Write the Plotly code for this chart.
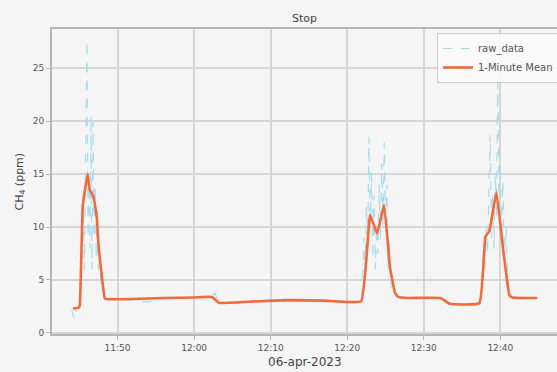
import plotly.graph_objects as go

DAY = "2023-04-06 "

raw_times = [
    "11:44:00", "11:44:20", "11:44:40", "11:45:00", "11:45:10", "11:45:20", "11:45:30", "11:45:40",
    "11:45:50", "11:46:00", "11:46:08", "11:46:16", "11:46:24", "11:46:32", "11:46:40", "11:46:48",
    "11:46:56", "11:47:04", "11:47:12", "11:47:20", "11:47:30", "11:47:40", "11:47:50", "11:48:00",
    "11:48:15", "11:48:30", "11:49:00", "11:52:00", "11:54:00", "11:56:00", "11:58:00", "12:00:00",
    "12:02:20", "12:02:40", "12:03:15", "12:06:00", "12:10:00", "12:12:00", "12:16:00", "12:20:00",
    "12:21:40", "12:21:50", "12:22:00", "12:22:10", "12:22:20", "12:22:30", "12:22:40", "12:22:50",
    "12:23:00", "12:23:10", "12:23:20", "12:23:30", "12:23:40", "12:23:50", "12:24:00", "12:24:10",
    "12:24:20", "12:24:30", "12:24:40", "12:24:50", "12:25:00", "12:25:10", "12:25:20", "12:25:30",
    "12:25:45", "12:26:00", "12:26:30", "12:28:00", "12:30:00", "12:32:00", "12:33:20", "12:35:00",
    "12:37:00", "12:37:20", "12:37:40", "12:37:50", "12:38:00", "12:38:10", "12:38:20", "12:38:40",
    "12:38:50", "12:39:00", "12:39:10", "12:39:20", "12:39:30", "12:39:40", "12:39:50", "12:40:00",
    "12:40:10", "12:40:20", "12:40:30", "12:40:45", "12:41:00", "12:41:15", "12:41:30", "12:43:00",
    "12:44:50",
]
raw_values = [
    2.2, 1.3, 2.4, 2.5, 4.0, 8.0, 12.5, 6.0,
    15.5, 27.6, 9.0, 14.0, 8.0, 20.5, 6.0, 20.0,
    9.0, 14.0, 7.0, 12.0, 6.0, 8.0, 4.5, 5.0,
    3.5, 3.2, 3.2, 3.1, 2.9, 3.3, 3.3, 3.4,
    3.4, 3.8, 2.8, 2.9, 3.0, 3.2, 3.1, 2.9,
    3.0, 3.0, 5.0, 9.0, 6.0, 12.0, 8.0, 18.5,
    10.0, 15.0, 7.0, 13.0, 6.0, 10.0, 7.5, 14.0,
    9.0, 16.0, 10.0, 18.0, 11.0, 14.0, 6.0, 9.0,
    4.0, 3.6, 3.4, 3.3, 3.3, 3.3, 2.7, 2.7,
    2.8, 3.0, 5.5, 8.0, 6.0, 10.0, 7.5, 18.7,
    9.0, 13.0, 8.0, 15.0, 11.0, 24.5, 12.0, 16.0,
    9.0, 14.4, 7.0, 10.0, 5.0, 3.5, 3.4, 3.3,
    3.3,
]

mean_times = [
    "11:44:10", "11:44:56", "11:45:04", "11:45:27", "11:45:51", "11:46:06", "11:46:22", "11:46:53",
    "11:47:16", "11:47:32", "11:47:55", "11:48:19", "11:48:34", "11:52:00", "11:56:00", "12:00:00",
    "12:02:20", "12:03:15", "12:07:00", "12:12:20", "12:17:00", "12:21:49", "12:22:59", "12:23:54",
    "12:24:48", "12:25:35", "12:26:14", "12:26:40", "12:27:55", "12:32:12", "12:33:23", "12:37:16",
    "12:38:03", "12:38:34", "12:39:29", "12:40:16", "12:41:10", "12:41:34", "12:44:49",
]
mean_values = [
    2.3, 2.4, 2.6, 12.0, 14.0, 15.0, 13.5, 12.8,
    11.0, 8.0, 5.5, 3.3, 3.2, 3.2, 3.3, 3.35,
    3.4, 2.85, 2.95, 3.1, 3.05, 3.0, 11.1, 9.4,
    12.1, 6.2, 3.8, 3.4, 3.3, 3.3, 2.75, 2.8,
    9.1, 9.6, 13.3, 8.5, 3.6, 3.35, 3.3,
]

y_ticks = [0, 5, 10, 15, 20, 25]

FONT = "DejaVu Sans"
BG = "#f5f5f5"
W, H = 557, 372
ML, MR, MT, MB = 52, 0, 29, 38
PH = H - MT - MB
PW = W - ML - MR

fig = go.Figure()
fig.add_trace(go.Scatter(
    x=[DAY + t for t in raw_times], y=raw_values, mode="lines", name="raw_data",
    line=dict(color="#a9dcea", width=1.2, dash="dash"),
))
fig.add_trace(go.Scatter(
    x=[DAY + t for t in mean_times], y=mean_values, mode="lines", name="1-Minute Mean",
    line=dict(color="#f26a3c", width=2.6, shape="spline", smoothing=0.3),
))

fig.update_layout(
    width=W, height=H,
    margin=dict(l=ML, r=MR, t=MT, b=MB, autoexpand=False),
    paper_bgcolor=BG, plot_bgcolor=BG,
    font=dict(family=FONT, size=9, color="#555555"),
    showlegend=True,
    legend=dict(x=(437 - ML) / PW, y=1 - 4 / PH, xanchor="left", yanchor="top",
                bgcolor="rgba(250,250,250,0.85)", bordercolor="#cccccc", borderwidth=1,
                font=dict(size=10, color="#555555"), tracegroupgap=0),
    annotations=[
        dict(text="Stop", xref="paper", yref="paper", x=0.5, y=1 + 10 / PH,
             xanchor="center", yanchor="middle", showarrow=False,
             font=dict(size=11, color="#444444")),
        dict(text="06-apr-2023", xref="paper", yref="paper", x=0.5, y=-(362 - (H - MB)) / PH,
             xanchor="center", yanchor="middle", showarrow=False,
             font=dict(size=12, color="#444444")),
        dict(text="CH<sub>4</sub> (ppm)", xref="paper", yref="paper", x=-(ML - 19) / PW,
             y=0.5, xanchor="center", yanchor="middle", showarrow=False, textangle=-90,
             font=dict(size=11, color="#444444")),
    ],
)
fig.update_xaxes(
    range=[DAY + "11:41:26", DAY + "12:47:24"], automargin=False,
    tickformat="%H:%M", dtick=600000, tick0=DAY + "11:50:00",
    showgrid=True, gridcolor="#d6d6d6", gridwidth=1.5,
    showline=True, linecolor="#b5b5b5", linewidth=2, mirror=True,
    ticks="outside", ticklen=4, tickcolor="#b5b5b5",
    zeroline=False,
)
fig.update_yaxes(
    range=[-0.1, 28.7], tickvals=y_ticks, automargin=False,
    showgrid=True, gridcolor="#d6d6d6", gridwidth=1.5,
    showline=True, linecolor="#b5b5b5", linewidth=2,
    ticks="outside", ticklen=4, tickcolor="#b5b5b5",
    zeroline=False,
)

fig.write_html("out.html", config={"displayModeBar": False},
               post_script="document.body.style.margin='0';")
